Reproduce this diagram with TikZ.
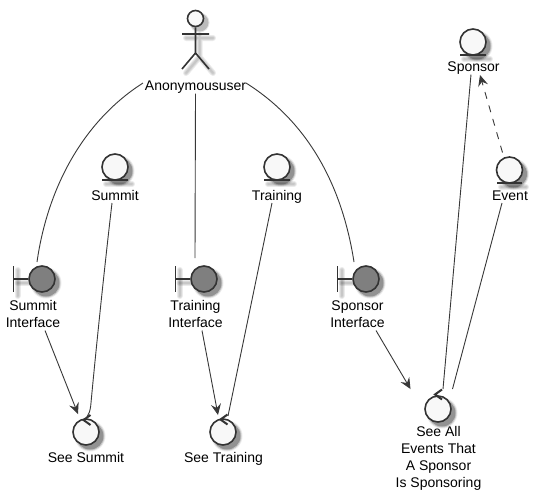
\documentclass[tikz,border=0pt]{standalone}
\usepackage{fontspec}
\setmainfont{Liberation Sans}
\usetikzlibrary{arrows.meta,calc}
\definecolor{ink}{HTML}{333333}
\definecolor{conn}{HTML}{383838}
\definecolor{pale}{HTML}{F8F8F8}
\definecolor{midgray}{HTML}{7F7F7F}
\tikzset{
  lbl/.style={font=\fontsize{14}{17}\selectfont,align=center,inner sep=1pt,text=black},
  lblone/.style={lbl,text height=10pt,text depth=3pt},
  paleball/.style={circle,draw=ink,line width=1.6pt,fill=pale,minimum size=26pt,inner sep=0pt},
  darkball/.style={circle,draw=ink,line width=1.6pt,fill=midgray,minimum size=26pt,inner sep=0pt},
  stroke/.style={draw=ink,line width=1.6pt},
  chevron/.style={draw=ink,line width=2pt},
  link/.style={draw=conn,line width=0.9pt},
  headtip/.style={-{Stealth[length=11pt,width=10pt,inset=4pt]}},
  arrowlink/.style={link,headtip},
  glow/.style={line width=#1,draw=black,opacity=0.08,line cap=round},
}
\newcommand{\softball}[1]{%
  \fill[black,opacity=0.08] ($(#1)+(4,4)$) circle (15.5);
  \fill[black,opacity=0.16] ($(#1)+(4,4)$) circle (14.5);
  \fill[black,opacity=0.26] ($(#1)+(4,4)$) circle (13.5);
}
\newcommand{\softpath}[1]{%
  \path[glow=6pt,shift={(4,4)}] #1;
  \path[glow=4pt,shift={(4,4)}] #1;
  \path[glow=2pt,shift={(4,4)}] #1;
}
\begin{document}
\begin{tikzpicture}[x=1pt,y=-1pt]
\useasboundingbox (0,0) rectangle (538,501);
\fill[white] (0,0) rectangle (538,501);

% shadows
\fill[black,opacity=0.10] (199.5,22.5) circle (10);
\fill[black,opacity=0.18] (199.5,22.5) circle (9);
\softpath{(195.5,31) -- (195.5,53) (182,34) -- (209,34) (182,69) -- (195.5,53) -- (209,69)}
\softball{115,167}\softball{277,167}\softball{473,42}\softball{509.5,170}
\softpath{(102,180) -- (128,180) (264,180) -- (290,180) (460,55) -- (486,55) (497,183) -- (522,183)}
\softball{42,279}\softball{204,279}\softball{366,279}
\softpath{(13.5,279) -- (30,279) (175.5,279) -- (192,279) (337.5,279) -- (354,279)}
\softpath{(13.5,266) -- (13.5,292) (175.5,266) -- (175.5,292) (337.5,266) -- (337.5,292)}
\softball{86,432}\softball{223,432}\softball{438,409}

% actor
\node[paleball,minimum size=16pt] (actorhead) at (195.5,18.5) {};
\draw[stroke] (actorhead.south) -- (195.5,53) (182,34) -- (209,34) (182,69) -- (195.5,53) -- (209,69);
\node[lblone] (anon) at (195.5,86.5) {Anonymoususer};

% entities
\node[paleball] (eSummit) at (115,167) {};
\draw[stroke] (102,180) -- (128,180);
\node[lblone] (lSummit) at (115,196.5) {Summit};
\node[paleball] (eTraining) at (277,167) {};
\draw[stroke] (264,180) -- (290,180);
\node[lblone] (lTraining) at (277,196.5) {Training};
\node[paleball] (eSponsor) at (473,42) {};
\draw[stroke] (460,55) -- (486,55);
\node[lblone] (lSponsor) at (473.5,68) {Sponsor};
\node[paleball] (eEvent) at (509.5,170) {};
\draw[stroke] (497,183) -- (522,183);
\node[lblone] (lEvent) at (510,196.5) {Event};

% boundaries
\node[darkball] (bSummit) at (42,279) {};
\draw[stroke] (13.5,266) -- (13.5,292) (13.5,279) -- (bSummit.west);
\node[lbl] (lbSummit) at (33,314) {Summit\\Interface};
\node[darkball] (bTraining) at (204,279) {};
\draw[stroke] (175.5,266) -- (175.5,292) (175.5,279) -- (bTraining.west);
\node[lbl] (lbTraining) at (195.5,314) {Training\\Interface};
\node[darkball] (bSponsor) at (366,279) {};
\draw[stroke] (337.5,266) -- (337.5,292) (337.5,279) -- (bSponsor.west);
\node[lbl] (lbSponsor) at (357.5,314) {Sponsor\\Interface};

% controls
\node[paleball] (cSummit) at (86,432) {};
\draw[chevron] (90.5,415) -- (83.5,420) -- (90.5,425);
\node[lblone] (lcSummit) at (86,458.5) {See Summit};
\node[paleball] (cTraining) at (223,432) {};
\draw[chevron] (227.5,414.5) -- (220.5,419.5) -- (227.5,424.5);
\node[lblone] (lcTraining) at (223.5,458.5) {See Training};
\node[paleball] (cSponsoring) at (438,409) {};
\draw[chevron] (442,389.5) -- (435,394.5) -- (442,399.5);
\node[lbl] (lcSponsoring) at (438.5,458.5) {See All\\Events That\\A Sponsor\\Is Sponsoring};

% connectors
\draw[link] ([shift={(-52.5,-3.5)}]anon.center) .. controls (85,120) and (48,185) .. ([shift={(-5,-17)}]bSummit.center);
\draw[link] ([shift={(0,7)}]anon.center) -- ([shift={(-9,-21)}]bTraining.center);
\draw[link] ([shift={(50.5,-3.5)}]anon.center) .. controls (308,122) and (342,185) .. ([shift={(-12,-17)}]bSponsor.center);
\draw[arrowlink] ([shift={(12,16.5)}]lbSummit.center) -- ([shift={(-8,-18)}]cSummit.center);
\draw[arrowlink] ([shift={(6.5,16.5)}]lbTraining.center) -- ([shift={(-5,-17)}]cTraining.center);
\draw[arrowlink] ([shift={(18.5,16.5)}]lbSponsor.center) -- ([shift={(-27.5,-20)}]cSponsoring.center);
\draw[link] ([shift={(-3,6.5)}]lSummit.center) .. controls (103,280) and (94,370) .. (90.7,406) .. controls (90,411) and (89,414) .. ([shift={(1,-15)}]cSummit.center);
\draw[link] ([shift={(-5,6.5)}]lTraining.center) -- ([shift={(5,-16)}]cTraining.center);
\draw[link] ([shift={(-2.5,6.5)}]lSponsor.center) -- ([shift={(5,-20)}]cSponsoring.center);
\draw[link] ([shift={(-8,6.5)}]lEvent.center) -- ([shift={(14.5,-20)}]cSponsoring.center);
\draw[link,dash pattern=on 7pt off 7pt,headtip] ([shift={(-7,-17.5)}]eEvent.center) -- ([shift={(6.5,7)}]lSponsor.center);
\end{tikzpicture}
\end{document}
